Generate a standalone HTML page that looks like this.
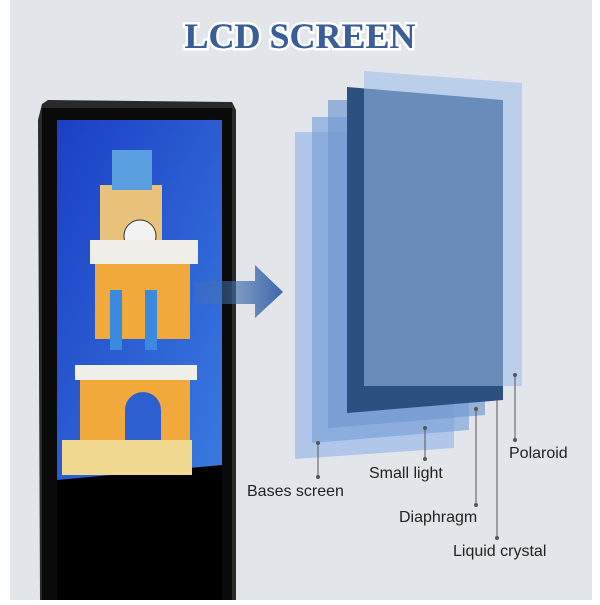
<!DOCTYPE html>
<html><head><style>
body{margin:0;width:600px;height:600px;overflow:hidden;background:#fff;font-family:"Liberation Sans",sans-serif}
</style></head><body>
<svg width="600" height="600" xmlns="http://www.w3.org/2000/svg">
<defs>
<linearGradient id="sky" x1="0" y1="0" x2="1" y2="1"><stop offset="0" stop-color="#1b3fc4"/><stop offset="1" stop-color="#3a7be0"/></linearGradient>
<linearGradient id="arr" x1="0" y1="0" x2="1" y2="0"><stop offset="0" stop-color="#4a74b0" stop-opacity="0.3"/><stop offset="1" stop-color="#3c67a8"/></linearGradient>
</defs>
<rect x="10" y="0" width="582" height="600" fill="#e2e5ea"/>
<text x="300" y="48" text-anchor="middle" font-family="Liberation Serif,serif" font-weight="bold" font-size="36" fill="#3a5e98" stroke="#fff" stroke-width="5" paint-order="stroke">LCD SCREEN</text>
<text x="300" y="48" text-anchor="middle" font-family="Liberation Serif,serif" font-weight="bold" font-size="36" fill="#3a5e98">LCD SCREEN</text>
<!-- monitor -->
<polygon points="42,104 48,100 232,102 236,110 236,600 40,600 38,120" fill="#2a2a2a"/>
<rect x="42" y="108" width="190" height="492" fill="#0a0a0a"/>
<rect x="57" y="120" width="165" height="360" fill="url(#sky)"/>
<polygon points="57,480 222,465 222,600 57,600" fill="#000"/>
<rect x="100" y="185" width="62" height="60" fill="#e8c27a"/>
<rect x="112" y="150" width="40" height="40" fill="#5aa0e0"/>
<circle cx="140" cy="236" r="16" fill="#f2f2f2" stroke="#333"/>
<rect x="90" y="240" width="108" height="24" fill="#f0eee8"/>
<rect x="95" y="264" width="95" height="75" fill="#f0a93a"/>
<rect x="110" y="290" width="12" height="60" fill="#3a8ae0"/><rect x="145" y="290" width="12" height="60" fill="#3a8ae0"/>
<rect x="80" y="375" width="110" height="90" fill="#f0a93a"/>
<rect x="75" y="365" width="122" height="15" fill="#f0eee8"/>
<path d="M125 470 V410 a18 18 0 0 1 36 0 V470Z" fill="#2d5fd0"/>
<rect x="62" y="440" width="130" height="35" fill="#f0d890"/>
<polygon points="195,281 255,281 255,265 283,292 255,318 255,304 195,304" fill="url(#arr)"/>
<polygon points="295,132 454,132 454,448 295,459" fill="#8fb3e8" opacity="0.6"/>
<polygon points="312,117 469,117 469,430 312,443" fill="#7aa2da" opacity="0.65"/>
<polygon points="328,100 485,100 485,415 328,428" fill="#6f97cf" opacity="0.65"/>
<polygon points="347,87 503,100 503,400 347,413" fill="#2c5080"/>
<polygon points="364,71 522,83 522,386 364,386" fill="#9dbde9" opacity="0.55"/>
<g stroke="#555" stroke-width="1" fill="#555">
<line x1="318" y1="443" x2="318" y2="477"/><circle cx="318" cy="443" r="1.5"/><circle cx="318" cy="477" r="1.5"/>
<line x1="425" y1="428" x2="425" y2="459"/><circle cx="425" cy="428" r="1.5"/><circle cx="425" cy="459" r="1.5"/>
<line x1="476" y1="409" x2="476" y2="505"/><circle cx="476" cy="409" r="1.5"/><circle cx="476" cy="505" r="1.5"/>
<line x1="497" y1="400" x2="497" y2="538"/><circle cx="497" cy="538" r="1.5"/>
<line x1="515" y1="375" x2="515" y2="440"/><circle cx="515" cy="375" r="1.5"/><circle cx="515" cy="440" r="1.5"/>
</g>
<g font-size="16" fill="#222">
<text x="509" y="458">Polaroid</text>
<text x="369" y="478">Small light</text>
<text x="247" y="496">Bases screen</text>
<text x="399" y="522">Diaphragm</text>
<text x="453" y="556">Liquid crystal</text>
</g>
</svg>
</body></html>
